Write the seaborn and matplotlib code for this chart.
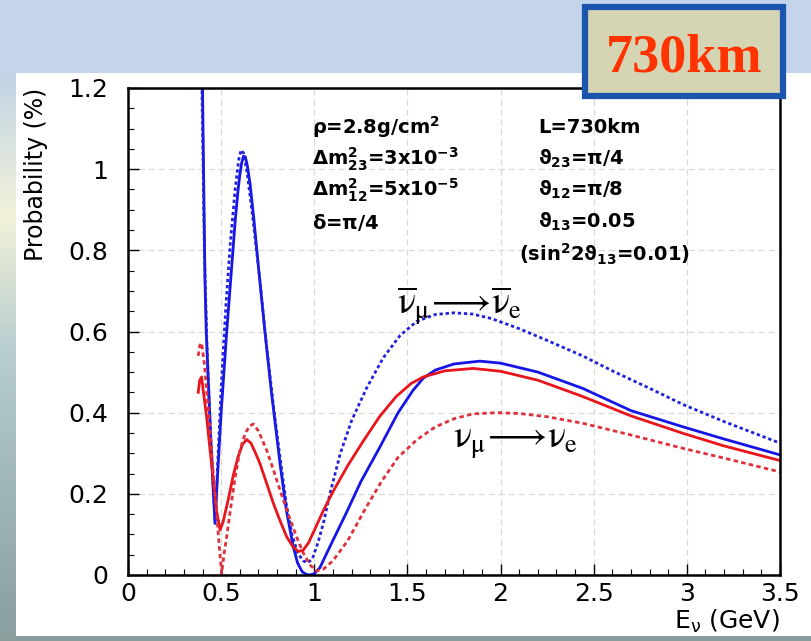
import numpy as np
import pandas as pd
import seaborn as sns
import matplotlib.pyplot as plt
from matplotlib.patches import Rectangle
from matplotlib.colors import LinearSegmentedColormap

# anti-neutrino, solid curve
nubar_solid_e = [0.390, 0.400, 0.413, 0.420, 0.440, 0.455, 0.467, 0.480, 0.500, 0.530, 0.565, 0.575,
                 0.590, 0.600, 0.610, 0.620, 0.630, 0.640, 0.655, 0.675, 0.700, 0.735, 0.770, 0.816,
                 0.850, 0.887, 0.910, 0.935, 0.955, 0.975, 1.000, 1.030, 1.084, 1.174, 1.250, 1.353,
                 1.450, 1.530, 1.585, 1.650, 1.750, 1.889, 2.000, 2.200, 2.440, 2.700, 2.980, 3.200, 3.500]
nubar_solid_p = [1.45, 1.20, 0.73, 0.60, 0.38, 0.23, 0.127, 0.24, 0.40, 0.60, 0.81, 0.87,
                 0.945, 0.985, 1.015, 1.032, 1.030, 1.010, 0.965, 0.88, 0.76, 0.60, 0.45, 0.275,
                 0.16, 0.07, 0.03, 0.008, 0.002, 0.0, 0.003, 0.018, 0.07, 0.155, 0.23, 0.316,
                 0.40, 0.455, 0.485, 0.505, 0.52, 0.527, 0.522, 0.50, 0.46, 0.405, 0.365, 0.335, 0.296]

# anti-neutrino, dotted curve
nubar_dot_e = [0.385, 0.397, 0.410, 0.425, 0.445, 0.468, 0.480, 0.500, 0.525, 0.548, 0.575, 0.595,
               0.607, 0.620, 0.640, 0.670, 0.708, 0.740, 0.780, 0.816, 0.850, 0.880, 0.910, 0.940,
               0.965, 0.990, 1.020, 1.050, 1.084, 1.140, 1.200, 1.280, 1.370, 1.460, 1.550, 1.650,
               1.750, 1.850, 1.950, 2.100, 2.250, 2.440, 2.600, 2.800, 2.980, 3.200, 3.500]
nubar_dot_p = [1.45, 1.20, 0.80, 0.55, 0.33, 0.13, 0.26, 0.46, 0.66, 0.81, 0.95, 1.025,
               1.047, 1.04, 0.99, 0.88, 0.727, 0.58, 0.42, 0.29, 0.175, 0.10, 0.055, 0.035,
               0.03, 0.04, 0.08, 0.13, 0.20, 0.30, 0.38, 0.46, 0.535, 0.59, 0.625, 0.642,
               0.646, 0.643, 0.632, 0.607, 0.578, 0.540, 0.503, 0.46, 0.42, 0.378, 0.325]

# neutrino, solid curve
nu_solid_e = [0.377, 0.385, 0.395, 0.405, 0.422, 0.440, 0.458, 0.475, 0.494, 0.510, 0.540, 0.565,
              0.590, 0.615, 0.637, 0.660, 0.685, 0.708, 0.745, 0.780, 0.815, 0.852, 0.885, 0.914,
              0.940, 0.970, 1.000, 1.050, 1.100, 1.180, 1.263, 1.350, 1.440, 1.520, 1.585, 1.700,
              1.853, 2.000, 2.200, 2.440, 2.700, 2.980, 3.200, 3.500]
nu_solid_p = [0.45, 0.48, 0.488, 0.45, 0.39, 0.31, 0.234, 0.16, 0.111, 0.13, 0.19, 0.245,
              0.29, 0.322, 0.334, 0.325, 0.30, 0.275, 0.225, 0.177, 0.135, 0.094, 0.07, 0.058,
              0.061, 0.08, 0.11, 0.16, 0.205, 0.27, 0.33, 0.39, 0.44, 0.472, 0.488, 0.503,
              0.509, 0.502, 0.48, 0.44, 0.392, 0.349, 0.318, 0.282]

# neutrino, dotted curve
nu_dot_e = [0.377, 0.385, 0.395, 0.410, 0.425, 0.440, 0.458, 0.476, 0.490, 0.503, 0.515, 0.530,
            0.547, 0.575, 0.601, 0.630, 0.655, 0.673, 0.700, 0.744, 0.780, 0.816, 0.860, 0.905,
            0.940, 0.977, 1.010, 1.050, 1.100, 1.180, 1.270, 1.360, 1.450, 1.550, 1.650, 1.750,
            1.850, 1.980, 2.100, 2.250, 2.440, 2.700, 2.980, 3.200, 3.500]
nu_dot_p = [0.54, 0.565, 0.572, 0.52, 0.44, 0.357, 0.25, 0.152, 0.07, 0.004, 0.05, 0.095,
            0.152, 0.24, 0.308, 0.35, 0.368, 0.372, 0.355, 0.308, 0.26, 0.209, 0.15, 0.094,
            0.055, 0.025, 0.01, 0.015, 0.035, 0.085, 0.16, 0.23, 0.29, 0.333, 0.365, 0.385,
            0.397, 0.40, 0.398, 0.39, 0.374, 0.345, 0.312, 0.288, 0.254]

curves = {
    'nubar_solid': (nubar_solid_e, nubar_solid_p),
    'nubar_dot': (nubar_dot_e, nubar_dot_p),
    'nu_solid': (nu_solid_e, nu_solid_p),
    'nu_dot': (nu_dot_e, nu_dot_p),
}
df = pd.concat(
    [pd.DataFrame({'E': e, 'P': p, 'curve': k}) for k, (e, p) in curves.items()],
    ignore_index=True,
)

palette = {'nubar_solid': '#1515e8', 'nubar_dot': '#2222dd',
           'nu_solid': '#e8151c', 'nu_dot': '#e0303c'}
dashes = {'nubar_solid': '', 'nubar_dot': (1.2, 1.0),
          'nu_solid': '', 'nu_dot': (1.6, 1.2)}

plt.rcParams['mathtext.fontset'] = 'custom'
plt.rcParams['mathtext.rm'] = 'DejaVu Sans:bold'
plt.rcParams['mathtext.it'] = 'DejaVu Sans:bold'
plt.rcParams['mathtext.bf'] = 'DejaVu Sans:bold'

W, H = 812, 641
fig = plt.figure(figsize=(W / 100, H / 100), dpi=100, facecolor='#c4d4eb')

# slide background: white panel, grey bottom band, left strip
fig.patches.append(Rectangle((16 / W, 1 - 636 / H), 1, (636 - 73) / H,
                             transform=fig.transFigure, facecolor='white',
                             edgecolor='none', zorder=-5))
fig.patches.append(Rectangle((0, 0), 1, 5 / H, transform=fig.transFigure,
                             facecolor='#8a9c9c', edgecolor='none', zorder=-5))
strip = fig.add_axes([0, 5 / H, 16 / W, (636 - 73) / H], zorder=-4)
strip_cmap = LinearSegmentedColormap.from_list(
    'strip', ['#c2d4e6', '#f2f2d8', '#b7cdd0', '#9fb6b8', '#8a9f9f'])
strip.imshow(np.linspace(0, 1, 100)[:, None], aspect='auto', cmap=strip_cmap)
strip.set_axis_off()

ax = fig.add_axes([128 / W, 1 - 575 / H, 652 / W, 487 / H], zorder=1)
sns.lineplot(data=df, x='E', y='P', hue='curve', style='curve', palette=palette,
             dashes=dashes, estimator=None, sort=False, linewidth=2, legend=False, ax=ax)

ax.set_xlim(0, 3.5)
ax.set_ylim(0, 1.2)
ax.set_xticks(np.arange(0, 3.51, 0.5))
ax.set_xticklabels(['0', '0.5', '1', '1.5', '2', '2.5', '3', '3.5'])
ax.set_yticks(np.arange(0, 1.21, 0.2))
ax.set_yticklabels(['0', '0.2', '0.4', '0.6', '0.8', '1', '1.2'])
ax.set_xticks(np.arange(0, 3.51, 0.1), minor=True)
ax.set_yticks(np.arange(0, 1.21, 0.05), minor=True)
ax.tick_params(which='both', direction='in', top=False, right=False, colors='black')
ax.tick_params(which='major', length=8, width=1, labelsize=18)
ax.tick_params(which='minor', length=4, width=0.8)
ax.tick_params(axis='y', pad=14)
ax.tick_params(axis='x', pad=5)
for s in ax.spines.values():
    s.set_linewidth(1.8)
    s.set_color('black')
ax.grid(True, which='major', color='#d9d9d9', linestyle=(0, (5, 3)), linewidth=0.9)
ax.set_axisbelow(True)

ax.set_ylabel('Probability (%)', fontsize=17, loc='top')
ax.yaxis.set_label_coords(-0.123, 1.0)
ax.set_xlabel(r'E$_\mathrm{\nu}$ (GeV)', fontsize=18, loc='right', math_fontfamily='dejavusans')
ax.xaxis.set_label_coords(1.0, -0.068)

# parameter block
left_col = [r'$\rho$=2.8g/cm$^2$', r'$\Delta$m$^2_{23}$=3x10$^{-3}$',
            r'$\Delta$m$^2_{12}$=5x10$^{-5}$', r'$\delta$=$\pi$/4']
right_col = ['L=730km', r'$\vartheta_{23}$=$\pi$/4', r'$\vartheta_{12}$=$\pi$/8',
             r'$\vartheta_{13}$=0.05']
rows_y = [1.103, 1.025, 0.948, 0.869]
for txt, yy in zip(left_col, rows_y):
    ax.text(0.988, yy, txt, fontsize=14, fontweight='bold', ha='left', va='center',
            math_fontfamily='custom')
for txt, yy in zip(right_col, rows_y):
    ax.text(2.20, yy, txt, fontsize=14, fontweight='bold', ha='left', va='center',
            math_fontfamily='custom')
ax.text(2.10, 0.79, r'(sin$^2$2$\vartheta_{13}$=0.01)', fontsize=14, fontweight='bold',
        ha='left', va='center', math_fontfamily='custom')

# channel labels
ax.text(1.78, 0.665, r'$\overline{\mathrm{\nu}}_{\mathrm{\mu}}\!\longrightarrow\!\overline{\mathrm{\nu}}_{\mathrm{e}}$',
        fontsize=27, ha='center', va='center', math_fontfamily='stix')
ax.text(2.08, 0.325, r'$\mathrm{\nu}_{\mathrm{\mu}}\!\longrightarrow\!\mathrm{\nu}_{\mathrm{e}}$',
        fontsize=27, ha='center', va='center', math_fontfamily='stix')

# baseline box
fig.patches.append(Rectangle((585 / W, 1 - 96 / H), 198 / W, 89 / H,
                             transform=fig.transFigure, facecolor='#d5d4b3',
                             edgecolor='#1b55ad', linewidth=4.5, zorder=5))
fig.text(684 / W, 1 - 72 / H, '730km', family='Liberation Serif', weight='bold',
         color='#ff3300', fontsize=39, ha='center', va='baseline', zorder=6)

fig.savefig('out.png', dpi=100, facecolor=fig.get_facecolor())
